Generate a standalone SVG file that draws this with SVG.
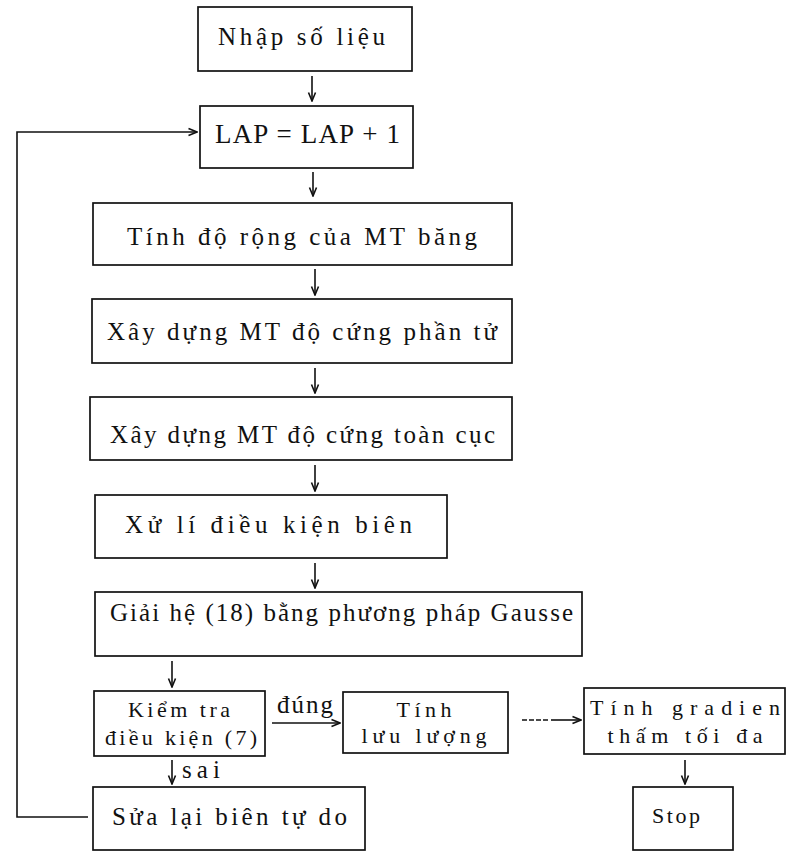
<svg xmlns="http://www.w3.org/2000/svg" width="787" height="851" viewBox="0 0 787 851">
<style>
.box{fill:none;stroke:#111;stroke-width:1.7}
.t{fill:#111;text-anchor:middle;font-size:25px}
.s{font-size:22px}
.l{font-size:27px}
.c{fill:none;stroke:#111;stroke-width:1.6}
</style>
<defs>
<marker id="arr" viewBox="0 0 10 10" refX="9.5" refY="5" markerWidth="10" markerHeight="10" markerUnits="userSpaceOnUse" orient="auto">
<path d="M1,1.5 L9.5,5 L1,8.5" fill="none" stroke="#111" stroke-width="1.6"/>
</marker>
</defs>
<rect width="787" height="851" fill="#fff"/>
<g font-family="'Liberation Serif', 'Times New Roman', 'DejaVu Serif', serif">
<g id="connectors">
<path class="c" d="M312,76 V101" marker-end="url(#arr)"/>
<path class="c" d="M313,172 V196" marker-end="url(#arr)"/>
<path class="c" d="M315,269 V295" marker-end="url(#arr)"/>
<path class="c" d="M315,368 V393" marker-end="url(#arr)"/>
<path class="c" d="M315,465 V491" marker-end="url(#arr)"/>
<path class="c" d="M315,563 V588" marker-end="url(#arr)"/>
<path class="c" d="M172,661 V687" marker-end="url(#arr)"/>
<path class="c" d="M272,723 H340" marker-end="url(#arr)"/>
<path class="c" d="M522,720 H548" stroke-dasharray="5 2"/>
<path class="c" d="M551,720 H581" marker-end="url(#arr)"/>
<path class="c" d="M685,760 V784" marker-end="url(#arr)"/>
<path class="c" d="M172,760 V784" marker-end="url(#arr)"/>
<path class="c" d="M88,817 H17 V132 H197" marker-end="url(#arr)"/>
<text class="t" x="305" y="713" font-size="20" textLength="56" lengthAdjust="spacing">đúng</text>
<text class="t" x="201" y="778" font-size="20" textLength="38" lengthAdjust="spacing">sai</text>
</g>
<g id="n1"><rect class="box" x="198" y="7" width="214" height="64"/><text class="t" x="301.5" y="45" textLength="167" lengthAdjust="spacing">Nhập số liệu</text></g>
<g id="n2"><rect class="box" x="200" y="106" width="213" height="62"/><text class="t l" x="307.5" y="143" textLength="185" lengthAdjust="spacing">LAP = LAP + 1</text></g>
<g id="n3"><rect class="box" x="93" y="203" width="419" height="62"/><text class="t" x="302" y="245" textLength="350" lengthAdjust="spacing">Tính độ rộng của MT băng</text></g>
<g id="n4"><rect class="box" x="92" y="299" width="420" height="64"/><text class="t" x="302" y="340" textLength="390" lengthAdjust="spacing">Xây dựng MT độ cứng phần tử</text></g>
<g id="n5"><rect class="box" x="90" y="397" width="422" height="63"/><text class="t" x="302.5" y="443" textLength="385" lengthAdjust="spacing">Xây dựng MT độ cứng toàn cục</text></g>
<g id="n6"><rect class="box" x="95" y="495" width="352" height="63"/><text class="t" x="268.5" y="533" textLength="287" lengthAdjust="spacing">Xử lí điều kiện biên</text></g>
<g id="n7"><rect class="box" x="95" y="592" width="487" height="64"/><text class="t" x="341.5" y="621" textLength="463" lengthAdjust="spacing">Giải hệ (18) bằng phương pháp Gausse</text></g>
<g id="n8"><rect class="box" x="94" y="691" width="171" height="65"/><text class="t s" x="179" y="717" textLength="102" lengthAdjust="spacing">Kiểm tra</text><text class="t s" x="181" y="745" textLength="152" lengthAdjust="spacing">điều kiện (7)</text></g>
<g id="n9"><rect class="box" x="343" y="692" width="165" height="61"/><text class="t s" x="424" y="717" textLength="55" lengthAdjust="spacing">Tính</text><text class="t s" x="424" y="743" textLength="125" lengthAdjust="spacing">lưu lượng</text></g>
<g id="n10"><rect class="box" x="584" y="688" width="201" height="66"/><text class="t s" x="685" y="715" textLength="190" lengthAdjust="spacing">Tính gradien</text><text class="t s" x="685" y="743" textLength="155" lengthAdjust="spacing">thấm tối đa</text></g>
<g id="n11"><rect class="box" x="633" y="787" width="100" height="63"/><text class="t s" x="676" y="823" textLength="48" lengthAdjust="spacing">Stop</text></g>
<g id="n12"><rect class="box" x="93" y="787" width="272" height="63"/><text class="t" x="229.5" y="825" textLength="235" lengthAdjust="spacing">Sửa lại biên tự do</text></g>
</g>
</svg>
